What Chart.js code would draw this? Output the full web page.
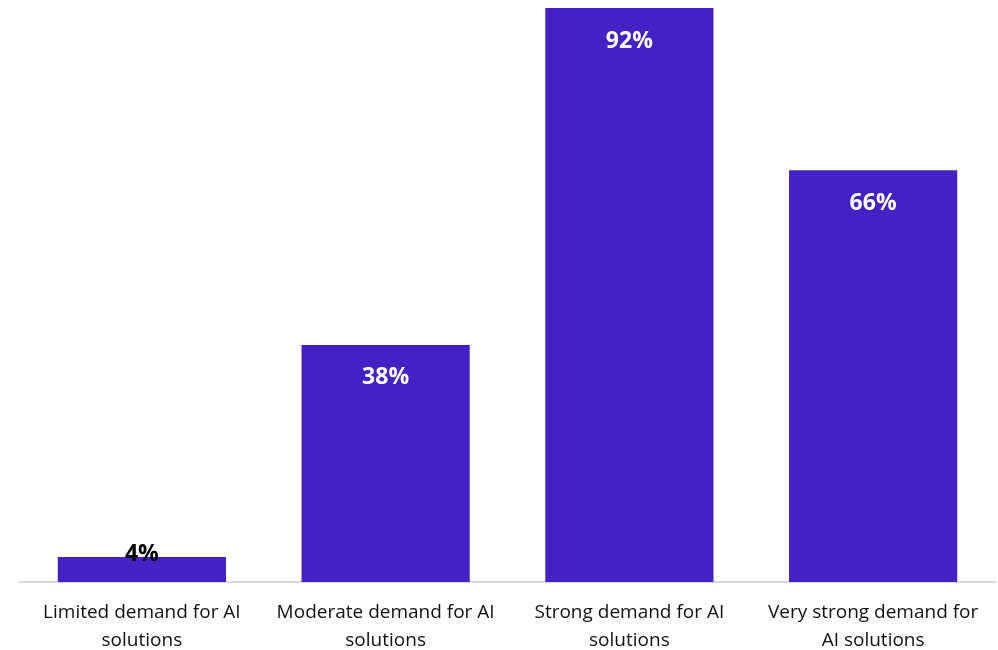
<!DOCTYPE html>
<html>
<head>
<meta charset="utf-8">
<script src="https://cdn.jsdelivr.net/npm/chart.js@4.4.1/dist/chart.umd.min.js"></script>
<style>
    html, body { margin: 0; padding: 0; background: #fff; }
    #wrap { width: 998px; height: 650px; position: relative; }
</style>
</head>
<body>
<div id="wrap"><canvas id="demandChart"></canvas></div>
<script>
// Share of respondents by level of demand for AI solutions
const categories = [
    ['Limited demand for AI', 'solutions'],
    ['Moderate demand for AI', 'solutions'],
    ['Strong demand for AI', 'solutions'],
    ['Very strong demand for', 'AI solutions']
];
const shares = [4, 38, 92, 66];

// Value labels: white inside the bar, dark when the bar is too short
const valueLabels = {
    id: 'valueLabels',
    afterDatasetsDraw(chart) {
        const { ctx } = chart;
        const meta = chart.getDatasetMeta(0);
        ctx.save();
        ctx.font = "bold 23px 'Open Sans', sans-serif";
        ctx.textAlign = 'center';
        ctx.textBaseline = 'middle';
        meta.data.forEach((bar, i) => {
            const tall = bar.base - bar.y > 60;
            ctx.fillStyle = tall ? '#ffffff' : '#000000';
            const y = tall ? bar.y + 33 : bar.y - 3;
            ctx.fillText(shares[i] + '%', bar.x, y);
        });
        ctx.restore();
    }
};

new Chart(document.getElementById('demandChart'), {
    type: 'bar',
    data: {
        labels: categories,
        datasets: [{
            data: shares,
            backgroundColor: '#4520c4',
            categoryPercentage: 1,
            barPercentage: 0.69
        }]
    },
    options: {
        responsive: true,
        maintainAspectRatio: false,
        animation: false,
        layout: { padding: { left: 20, right: 3, top: 8, bottom: 0 } },
        plugins: {
            legend: { display: false },
            tooltip: { enabled: false }
        },
        scales: {
            y: { display: false, min: 0, max: 92 },
            x: {
                grid: { display: false },
                border: { display: true, color: '#d9d9d9', width: 2 },
                ticks: {
                    color: '#111',
                    padding: 9,
                    maxRotation: 0,
                    font: { family: "'Open Sans', sans-serif", size: 19, lineHeight: 1.47 }
                },
                afterFit(scale) { scale.height = 68; }
            }
        }
    },
    plugins: [valueLabels]
});
</script>
</body>
</html>
